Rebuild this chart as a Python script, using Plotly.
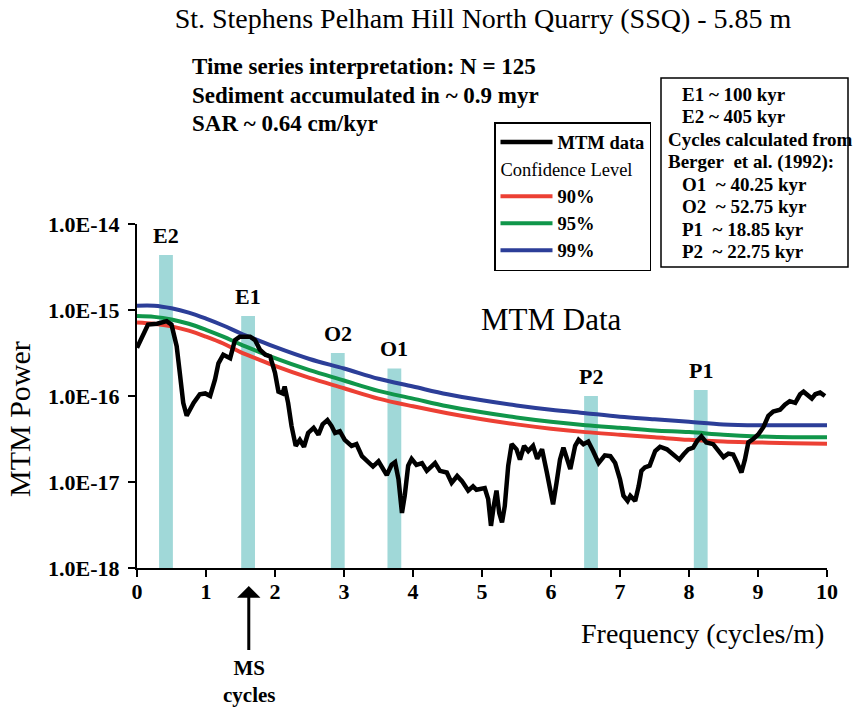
import plotly.graph_objects as go

# MTM spectrum (frequency in cycles/m, power as log10)
freq = [0.00, 0.09, 0.16, 0.29, 0.43, 0.50, 0.575, 0.62, 0.67, 0.72, 0.82, 0.91, 0.99, 1.06, 1.13, 1.18,
        1.25, 1.35, 1.42, 1.49, 1.64, 1.71, 1.78, 1.86, 1.93, 2.00, 2.05, 2.11, 2.14, 2.19, 2.24, 2.30,
        2.36, 2.42, 2.48, 2.56, 2.63, 2.69, 2.76, 2.82, 2.87, 2.94, 3.01, 3.11, 3.18, 3.26, 3.34, 3.42,
        3.50, 3.55, 3.62, 3.69, 3.74, 3.79, 3.84, 3.88, 3.93, 3.98, 4.05, 4.13, 4.20, 4.32, 4.39, 4.49,
        4.56, 4.64, 4.71, 4.80, 4.87, 4.92, 5.04, 5.09, 5.13, 5.17, 5.21, 5.25, 5.29, 5.33, 5.38, 5.43,
        5.50, 5.55, 5.61, 5.67, 5.74, 5.80, 5.87, 5.94, 5.99, 6.03, 6.08, 6.13, 6.18, 6.23, 6.28, 6.35,
        6.40, 6.47, 6.54, 6.61, 6.69, 6.78, 6.86, 6.93, 7.00, 7.05, 7.11, 7.15, 7.22, 7.27, 7.31, 7.36,
        7.43, 7.51, 7.58, 7.68, 7.77, 7.86, 7.92, 7.99, 8.06, 8.12, 8.18, 8.25, 8.35, 8.42, 8.50, 8.57,
        8.64, 8.70, 8.76, 8.81, 8.86, 8.93, 9.00, 9.08, 9.15, 9.22, 9.32, 9.39, 9.46, 9.54, 9.61, 9.66,
        9.71, 9.78, 9.83, 9.90, 9.97]
mtm_log = [-15.44, -15.27, -15.17, -15.16, -15.13, -15.17, -15.42, -15.73, -16.08, -16.23, -16.08, -15.98,
           -15.97, -16.00, -15.81, -15.62, -15.52, -15.56, -15.35, -15.31, -15.31, -15.35, -15.46, -15.52,
           -15.54, -15.73, -15.95, -15.97, -15.89, -16.08, -16.35, -16.58, -16.51, -16.59, -16.43, -16.37,
           -16.45, -16.33, -16.28, -16.35, -16.43, -16.41, -16.51, -16.58, -16.56, -16.70, -16.76, -16.82,
           -16.76, -16.83, -16.92, -16.80, -16.77, -16.97, -17.36, -17.16, -16.81, -16.73, -16.80, -16.78,
           -16.87, -16.78, -16.87, -16.89, -17.01, -16.93, -16.99, -17.10, -17.05, -17.09, -17.07, -17.20,
           -17.51, -17.28, -17.10, -17.36, -17.47, -17.28, -16.81, -16.56, -16.62, -16.74, -16.58, -16.64,
           -16.58, -16.73, -16.62, -16.89, -17.09, -17.26, -17.01, -16.74, -16.60, -16.74, -16.85, -16.58,
           -16.51, -16.56, -16.53, -16.64, -16.78, -16.69, -16.70, -16.78, -16.97, -17.16, -17.22, -17.16,
           -17.22, -17.05, -16.87, -16.83, -16.81, -16.64, -16.59, -16.62, -16.68, -16.74, -16.68, -16.62,
           -16.60, -16.52, -16.47, -16.54, -16.56, -16.64, -16.71, -16.67, -16.68, -16.78, -16.89, -16.74,
           -16.54, -16.50, -16.45, -16.36, -16.23, -16.18, -16.16, -16.10, -16.06, -16.08, -15.98, -15.95,
           -15.98, -16.03, -15.98, -15.96, -16.00]

# confidence levels (log10 power)
conf_freq = [0, 0.25, 0.5, 0.75, 1, 1.25, 1.5, 1.75, 2, 2.5, 3, 3.5, 4, 4.5, 5, 5.5, 6, 6.5, 7, 7.5, 8,
             8.5, 9, 9.5, 10]
conf_90 = [-15.145, -15.16, -15.19, -15.24, -15.31, -15.39, -15.49, -15.57, -15.65, -15.79, -15.91, -16.03,
           -16.12, -16.20, -16.27, -16.33, -16.38, -16.42, -16.45, -16.48, -16.51, -16.53, -16.54, -16.55, -16.555]
conf_95 = [-15.07, -15.08, -15.11, -15.16, -15.23, -15.31, -15.40, -15.48, -15.56, -15.70, -15.82, -15.94,
           -16.03, -16.12, -16.19, -16.25, -16.30, -16.34, -16.37, -16.40, -16.42, -16.45, -16.47, -16.48, -16.48]
conf_99 = [-14.95, -14.95, -14.98, -15.03, -15.10, -15.18, -15.27, -15.35, -15.43, -15.57, -15.68, -15.80,
           -15.89, -15.98, -16.05, -16.11, -16.16, -16.20, -16.24, -16.27, -16.30, -16.33, -16.34, -16.34, -16.34]

# Milankovitch cycle bars
cycle_names = ['E2', 'E1', 'O2', 'O1', 'P2', 'P1']
cycle_freq = [0.42, 1.61, 2.91, 3.73, 6.58, 8.17]
cycle_top = [-14.36, -15.07, -15.50, -15.68, -16.00, -15.93]

y_ticks = [-18, -17, -16, -15, -14]
y_ticktext = ['1.0E-18', '1.0E-17', '1.0E-16', '1.0E-15', '1.0E-14']

info_lines = ['Time series interpretation: N = 125', 'Sediment accumulated in ~ 0.9 myr', 'SAR ~ 0.64 cm/kyr']
box_lines = ['E1 ~ 100 kyr', 'E2 ~ 405 kyr', 'Cycles calculated from', 'Berger&nbsp; et al. (1992):',
             'O1&nbsp; ~ 40.25 kyr', 'O2&nbsp; ~ 52.75 kyr', 'P1&nbsp; ~ 18.85 kyr', 'P2&nbsp; ~ 22.75 kyr']
box_indent = [True, True, False, False, True, True, True, True]

FONT = 'Liberation Serif, Times New Roman, serif'
W, H = 866, 710
L, R, T, B = 137, 39, 224, 142
PW, PH = W - L - R, H - T - B


# page pixels -> paper coordinates
def px(x):
    return (x - L) / PW


def py(y):
    return (H - B - y) / PH


def pw(v):
    return [float(10.0 ** e) for e in v]


fig = go.Figure()

fig.add_trace(go.Bar(x=cycle_freq, y=pw(cycle_top), width=0.2, marker=dict(color='rgb(160,216,216)', line_width=0),
                     showlegend=False, hoverinfo='skip'))
for name, vals, col, rank in [('90%', conf_90, 'rgb(236,64,52)', 2), ('95%', conf_95, 'rgb(16,150,74)', 3),
                              ('99%', conf_99, 'rgb(44,62,152)', 4)]:
    fig.add_trace(go.Scatter(x=conf_freq, y=pw(vals), mode='lines', name=name,
                             line=dict(color=col, width=4, shape='spline'),
                             legendgroup='conf', legendgrouptitle=dict(text='Confidence Level'), legendrank=rank))
fig.add_trace(go.Scatter(x=freq, y=pw(mtm_log), mode='lines', name='MTM data', line=dict(color='black', width=4.5),
                         legendgroup='data', legendrank=1))

ann = []
for n, f, t in zip(cycle_names, cycle_freq, cycle_top):
    ann.append(dict(x=f, y=t, xref='x', yref='y', text=n, showarrow=False, xanchor='center', yanchor='bottom',
                    yshift=5, font=dict(family=FONT, size=22, color='black', weight='bold')))
ann.append(dict(x=6.0, y=-15.13, xref='x', yref='y', text='MTM Data', showarrow=False, xanchor='center',
                yanchor='middle', yshift=2, font=dict(family=FONT, size=31, color='black')))
for i, line in enumerate(info_lines):
    ann.append(dict(x=px(190), y=py(66 + 29 * i), xref='paper', yref='paper', text=line, showarrow=False,
                    xanchor='left', yanchor='middle', font=dict(family=FONT, size=23, color='black', weight='bold')))
for i, (line, ind) in enumerate(zip(box_lines, box_indent)):
    ann.append(dict(x=px(680 if ind else 666), y=py(94 + 22.5 * i), xref='paper', yref='paper', text=line,
                    showarrow=False, xanchor='left', yanchor='middle',
                    font=dict(family=FONT, size=19, color='black', weight='bold')))
ann.append(dict(x=px(702), y=py(633), xref='paper', yref='paper', text='Frequency (cycles/m)', showarrow=False,
                xanchor='center', yanchor='middle', font=dict(family=FONT, size=28, color='black')))
ann.append(dict(x=px(19), y=py(419), xref='paper', yref='paper', text='MTM Power', showarrow=False, textangle=-90,
                xanchor='center', yanchor='middle', font=dict(family=FONT, size=30, color='black')))
ann.append(dict(x=1.62, y=py(586), xref='x', yref='paper', text='MS<br>cycles', showarrow=True, ax=0, ay=95,
                arrowhead=1, arrowsize=1.3, arrowwidth=3, arrowcolor='black', startstandoff=4,
                xanchor='center', yanchor='middle',
                font=dict(family=FONT, size=21, color='black', weight='bold')))

fig.update_layout(
    width=W, height=H, margin=dict(l=L, r=R, t=T, b=B),
    plot_bgcolor='white', paper_bgcolor='white',
    title=dict(text='St. Stephens Pelham Hill North Quarry (SSQ) - 5.85 m', x=483 / W, xanchor='center',
               y=1 - 18 / H, yanchor='middle', font=dict(family=FONT, size=28, color='black')),
    xaxis=dict(range=[0, 10], tickvals=list(range(11)), showgrid=False, zeroline=False, showline=True,
               linecolor='black', linewidth=2, ticks='outside', ticklen=7, tickwidth=2, tickcolor='black',
               ticklabelstandoff=-4, tickfont=dict(family=FONT, size=22, color='black', weight='bold')),
    yaxis=dict(type='log', range=[-18, -14], tickvals=pw(y_ticks), ticktext=y_ticktext, showgrid=False,
               zeroline=False, showline=True, linecolor='black', linewidth=2, ticks='outside', ticklen=7,
               tickwidth=2, tickcolor='black', ticklabelstandoff=4,
               tickfont=dict(family=FONT, size=22, color='black', weight='bold')),
    legend=dict(x=px(494), y=py(122), xanchor='left', yanchor='top', bgcolor='white', bordercolor='black',
                borderwidth=1.5, tracegroupgap=0, itemwidth=52,
                font=dict(family=FONT, size=18.5, color='black', weight='bold'),
                grouptitlefont=dict(family=FONT, size=18.5, color='black', weight='normal')),
    shapes=[dict(type='rect', xref='paper', yref='paper', x0=px(661), x1=px(848), y0=py(267), y1=py(78),
                 line=dict(color='black', width=1.5), fillcolor='rgba(0,0,0,0)')],
    annotations=ann,
    showlegend=True,
)

# drop the default page margin so the figure sits at the window's corner
fig.write_html('out.html', config={'displayModeBar': False},
               post_script="document.body.style.margin='0px';document.body.style.overflow='hidden';")
